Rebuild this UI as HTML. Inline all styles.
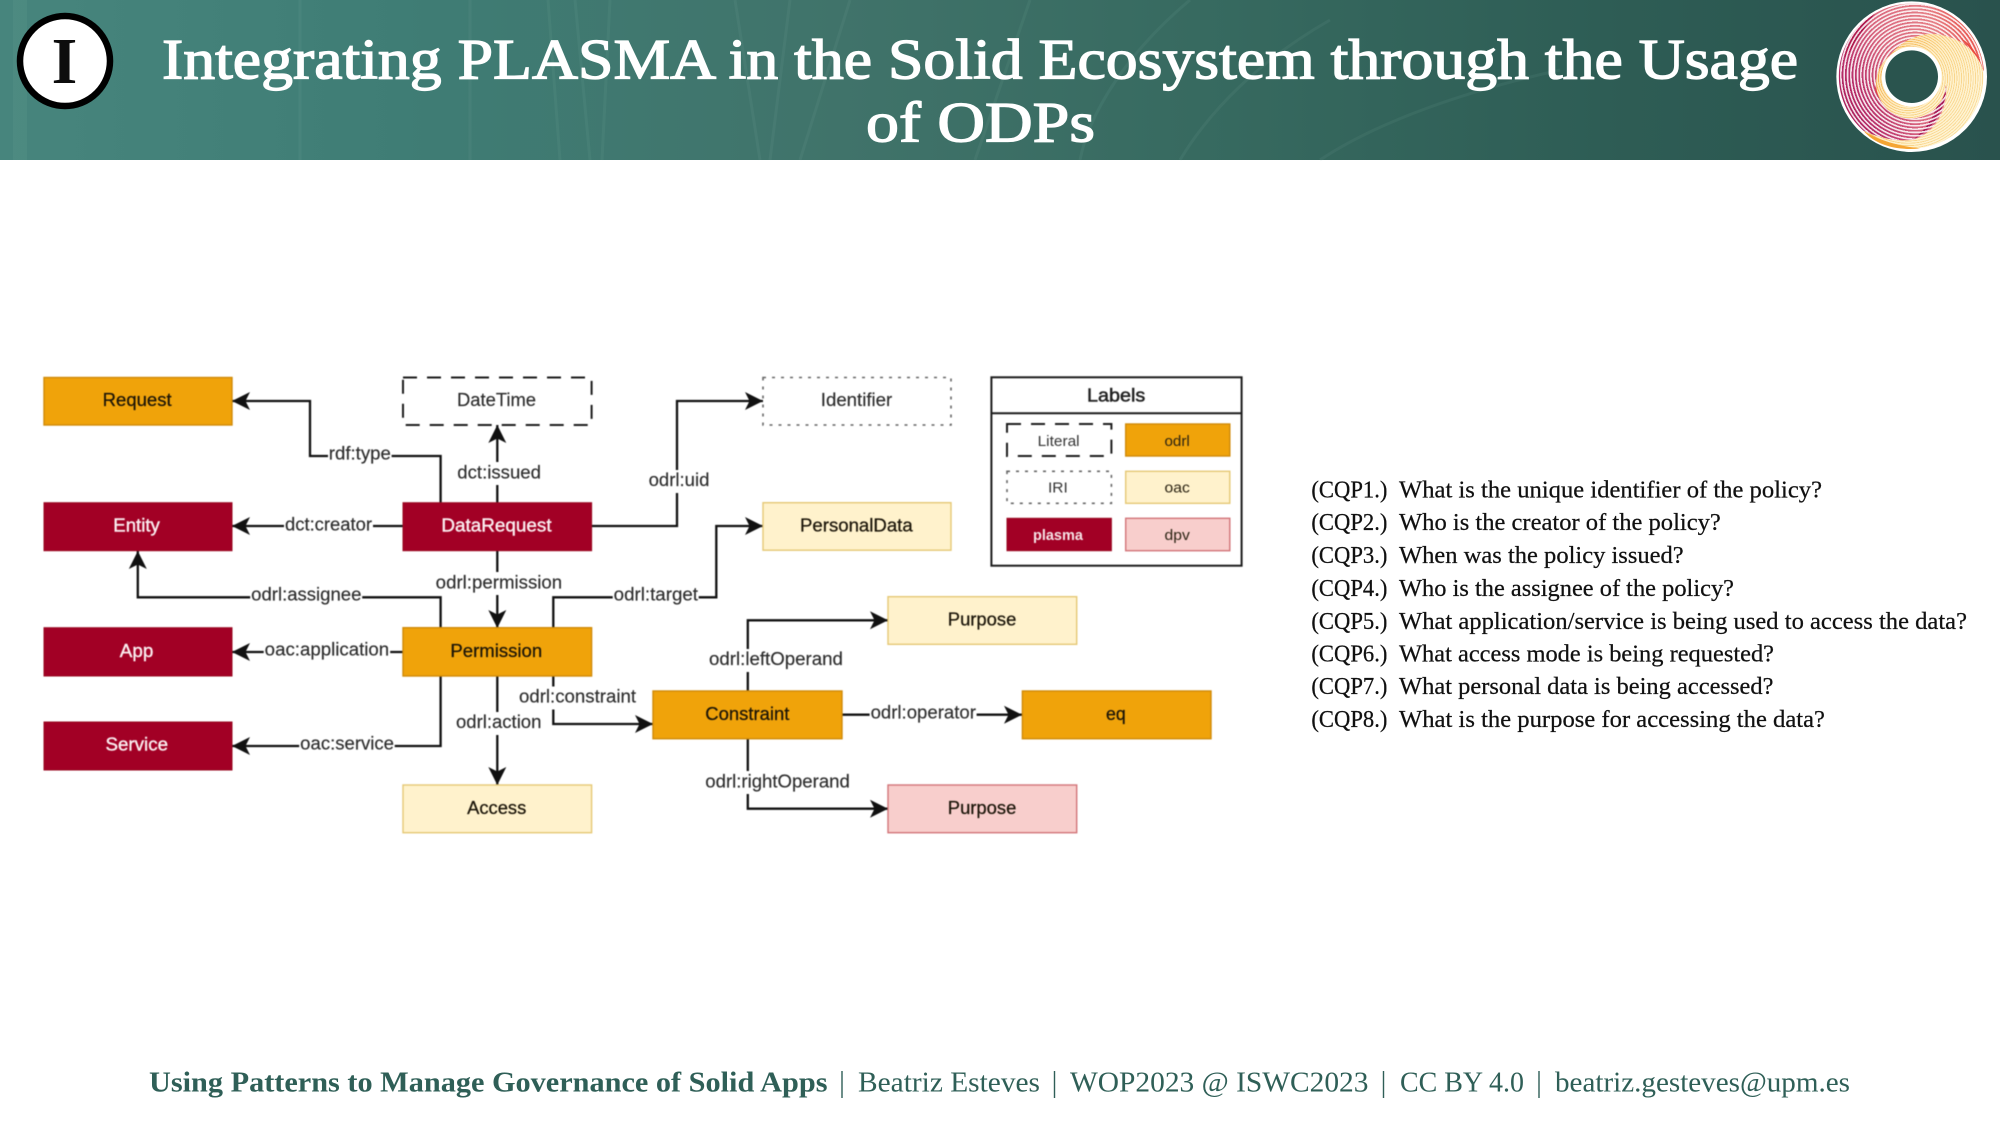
<!DOCTYPE html>
<html lang="en">
<head>
<meta charset="utf-8">
<title>Integrating PLASMA in the Solid Ecosystem through the Usage of ODPs</title>
<style>
html,body{margin:0;padding:0;background:#fff;width:2000px;height:1125px;overflow:hidden}
svg{display:block;font-family:"Liberation Sans",Arimo,Helvetica,sans-serif}
.serif{font-family:"Liberation Serif","Times New Roman",serif}
.edge{fill:none;stroke:#111;stroke-width:2.3}
.odrl{fill:#f0a30a;stroke:#d08a08;stroke-width:1.4}
.oac{fill:#fff2cc;stroke:#e5c875;stroke-width:1.4}
.plasma{fill:#a20025;stroke:#9a0a22;stroke-width:1}
.dpv{fill:#f8cecc;stroke:#d27478;stroke-width:1.4}
.lit{fill:#fff;stroke:#1c1c1c;stroke-width:2;stroke-dasharray:14 10}
.iri{fill:#fff;stroke:#666;stroke-width:1.6;stroke-dasharray:3 6}
.bt{font-size:18.4px;fill:#1a1408;stroke:#1a1408;stroke-width:.25}
.bw{font-size:18.4px;fill:#fbeef0;stroke:#fbeef0;stroke-width:.4}
.bg{font-size:18.4px;fill:#2c2c2c;stroke:#2c2c2c;stroke-width:.15}
.el{font-size:18.4px;fill:#2c2c2c;stroke:#2c2c2c;stroke-width:.15}
.lg{font-size:14.5px;fill:#333}
.cq{font-size:24.6px;fill:#111;stroke:#111;stroke-width:.25}
.ft{font-size:28px;fill:#2f5f57}
</style>
</head>
<body>
<svg xmlns="http://www.w3.org/2000/svg" width="2000" height="1125" viewBox="0 0 2000 1125">
<defs>
<linearGradient id="hdr" x1="0" y1="0" x2="1" y2="0">
<stop offset="0" stop-color="#47857d"/><stop offset=".2" stop-color="#3f7d75"/>
<stop offset=".42" stop-color="#40736a"/><stop offset=".6" stop-color="#376a60"/>
<stop offset=".8" stop-color="#2e5d55"/><stop offset="1" stop-color="#29524d"/>
</linearGradient>
<marker id="arr" markerUnits="userSpaceOnUse" markerWidth="20" markerHeight="20" refX="18" refY="10" orient="auto">
<path d="M18,10 L0,1 L4.5,10 L0,19 Z" fill="#111"/>
</marker>
<linearGradient id="pinkG" gradientUnits="userSpaceOnUse" x1="500" y1="120" x2="60" y2="330">
<stop offset="0" stop-color="#ea4a3e"/><stop offset=".25" stop-color="#e57f86"/>
<stop offset=".6" stop-color="#d8667f"/><stop offset=".85" stop-color="#b8306a"/><stop offset="1" stop-color="#a81d58"/>
</linearGradient>
<linearGradient id="orG" gradientUnits="userSpaceOnUse" x1="230" y1="150" x2="470" y2="300">
<stop offset="0" stop-color="#f5a533"/><stop offset=".4" stop-color="#fbd98c"/><stop offset="1" stop-color="#fdedbb"/>
</linearGradient>
<radialGradient id="stripes" gradientUnits="userSpaceOnUse" cx="285" cy="225" r="10" spreadMethod="repeat">
<stop offset="0" stop-color="#fff" stop-opacity=".85"/><stop offset=".42" stop-color="#fff" stop-opacity=".85"/>
<stop offset=".55" stop-color="#fff" stop-opacity="0"/><stop offset="1" stop-color="#fff" stop-opacity="0"/>
</radialGradient>
<radialGradient id="stripesO" gradientUnits="userSpaceOnUse" cx="265" cy="235" r="7" spreadMethod="repeat">
<stop offset="0" stop-color="#fff6dc" stop-opacity=".75"/><stop offset=".6" stop-color="#fff6dc" stop-opacity=".75"/>
<stop offset=".7" stop-color="#f6c873" stop-opacity=".5"/><stop offset="1" stop-color="#f6c873" stop-opacity=".5"/>
</radialGradient>
<clipPath id="pinkClip">
<path d="M492,215 A218,218 0 1 0 130,392 C170,410 220,425 270,420 C340,410 385,330 378,255 A105,105 0 1 1 208,168 C245,120 300,98 345,102 C420,110 470,150 492,215 Z"/>
</clipPath>
</defs>

<g>
<rect x="0" y="0" width="2000" height="160" fill="url(#hdr)"/>
<g fill="none" stroke="#8fc0b4" stroke-opacity=".09">
<path d="M20,0V160" stroke-width="14"/>
<path d="M300,0V160M470,0V160" stroke-width="3"/>
<path d="M548,0L560,160M575,0L590,160M610,0L602,160M735,0L760,160M790,0L770,160" stroke-width="3"/>
<path d="M850,0L800,160M1030,0L975,160M1190,0C1130,50 1090,110 1080,160M1330,20C1260,60 1210,110 1180,160M1560,70C1470,90 1380,120 1320,160" stroke-width="3"/>
</g>
</g>

<g>
<circle cx="65" cy="61" r="45" fill="#fff" stroke="#000" stroke-width="6.5"/>
<text class="serif" x="64.5" y="83" text-anchor="middle" font-size="66" font-weight="700" fill="#0d0d0d">I</text>
</g>

<g class="serif" fill="#fff" stroke="#fff" stroke-width="1.3">
<text x="162" y="78.5" font-size="57" textLength="1636" lengthAdjust="spacingAndGlyphs">Integrating PLASMA in the Solid Ecosystem through the Usage</text>
<text x="866" y="141.5" font-size="57" textLength="229" lengthAdjust="spacingAndGlyphs">of ODPs</text>
</g>

<g transform="translate(1820,0) scale(.33333)">
<circle cx="275" cy="230" r="226" fill="#fff"/>
<circle cx="275" cy="230" r="215" fill="url(#orG)"/>
<circle cx="275" cy="230" r="215" fill="url(#stripesO)"/>
<path d="M130,392 C170,440 240,452 300,445 C250,440 180,425 130,392Z" fill="#f5a533"/>
<g clip-path="url(#pinkClip)">
<rect x="40" y="0" width="470" height="460" fill="url(#pinkG)"/>
<path d="M165,40 C100,85 70,130 75,175 C95,150 115,110 165,40Z" fill="#b01d50"/>
<path d="M378,240 C385,320 340,390 280,418 C340,370 360,310 358,260Z" fill="#a81d58"/>
<rect x="40" y="0" width="470" height="460" fill="url(#stripes)"/>
<path d="M170,250 C185,290 215,315 250,322 L200,310 C170,290 160,270 170,250Z" fill="#e8433a"/>
<path d="M492,215 C475,160 450,130 420,112 C455,145 478,185 492,215Z" fill="#ea4a3e"/>
</g>
<circle cx="275" cy="230" r="90" fill="#fff"/>
<circle cx="275" cy="230" r="79" fill="#2a544e"/>
</g>

<g style="filter:blur(.45px)">
<g>
<path class="edge" marker-end="url(#arr)" d="M440.6,503V456H310V401H232"/>
<path class="edge" marker-end="url(#arr)" d="M497.3,503V425"/>
<path class="edge" marker-end="url(#arr)" d="M403,526H232"/>
<path class="edge" marker-end="url(#arr)" d="M592,526H677V401H763"/>
<path class="edge" marker-end="url(#arr)" d="M497.3,551V628"/>
<path class="edge" marker-end="url(#arr)" d="M440.6,628V597.3H137.8V551"/>
<path class="edge" marker-end="url(#arr)" d="M553.3,628V597.3H716.3V526H763"/>
<path class="edge" marker-end="url(#arr)" d="M403,652H232"/>
<path class="edge" marker-end="url(#arr)" d="M440.6,676V746H232"/>
<path class="edge" marker-end="url(#arr)" d="M497.3,676V785"/>
<path class="edge" marker-end="url(#arr)" d="M553.3,676V724H653"/>
<path class="edge" marker-end="url(#arr)" d="M747.8,691V620.3H888"/>
<path class="edge" marker-end="url(#arr)" d="M842,714.7H1022"/>
<path class="edge" marker-end="url(#arr)" d="M747.8,739V808.7H888"/>
</g>

<g>
<rect x="328" y="443" width="63.6" height="23" fill="#fff"/>
<text class="el" x="328.8" y="459.3" textLength="62" lengthAdjust="spacingAndGlyphs">rdf:type</text>
<rect x="455.3" y="462" width="88" height="23" fill="#fff"/>
<text class="el" x="457.3" y="478.3" textLength="83.7" lengthAdjust="spacingAndGlyphs">dct:issued</text>
<rect x="284" y="514" width="89" height="23" fill="#fff"/>
<text class="el" x="285" y="530.3" textLength="87" lengthAdjust="spacingAndGlyphs">dct:creator</text>
<rect x="646.6" y="470" width="65" height="23" fill="#fff"/>
<text class="el" x="648.6" y="486" textLength="60.8" lengthAdjust="spacingAndGlyphs">odrl:uid</text>
<rect x="433.7" y="572" width="130.5" height="23" fill="#fff"/>
<text class="el" x="435.7" y="588.3" textLength="126.5" lengthAdjust="spacingAndGlyphs">odrl:permission</text>
<rect x="250.2" y="584.5" width="112" height="23" fill="#fff"/>
<text class="el" x="251.2" y="600.7" textLength="110.2" lengthAdjust="spacingAndGlyphs">odrl:assignee</text>
<rect x="612.7" y="584.5" width="86" height="23" fill="#fff"/>
<text class="el" x="613.7" y="600.7" textLength="84.3" lengthAdjust="spacingAndGlyphs">odrl:target</text>
<rect x="263.7" y="639.5" width="126.5" height="23" fill="#fff"/>
<text class="el" x="264.7" y="655.7" textLength="124.5" lengthAdjust="spacingAndGlyphs">oac:application</text>
<rect x="299.2" y="733" width="95.5" height="23" fill="#fff"/>
<text class="el" x="300.2" y="749.3" textLength="93.8" lengthAdjust="spacingAndGlyphs">oac:service</text>
<rect x="517" y="686.5" width="121" height="23" fill="#fff"/>
<text class="el" x="519" y="702.7" textLength="117" lengthAdjust="spacingAndGlyphs">odrl:constraint</text>
<rect x="454" y="712" width="89.5" height="23" fill="#fff"/>
<text class="el" x="456" y="728" textLength="85.4" lengthAdjust="spacingAndGlyphs">odrl:action</text>
<rect x="707" y="649" width="138" height="23" fill="#fff"/>
<text class="el" x="709" y="665" textLength="133.9" lengthAdjust="spacingAndGlyphs">odrl:leftOperand</text>
<rect x="869.6" y="702.5" width="107" height="23" fill="#fff"/>
<text class="el" x="870.6" y="718.7" textLength="105.3" lengthAdjust="spacingAndGlyphs">odrl:operator</text>
<rect x="703.3" y="771" width="148.5" height="23" fill="#fff"/>
<text class="el" x="705.3" y="787.3" textLength="144.5" lengthAdjust="spacingAndGlyphs">odrl:rightOperand</text>
</g>

<g>
<g><rect class="odrl" x="44" y="377.5" width="188" height="47.5"/><text class="bt" x="102.7" y="406" textLength="68.9" lengthAdjust="spacingAndGlyphs">Request</text></g>
<g><rect class="lit" x="403" y="377.5" width="188.6" height="47.5"/><text class="bg" x="457" y="406" textLength="79" lengthAdjust="spacingAndGlyphs">DateTime</text></g>
<g><rect class="iri" x="763" y="377.5" width="188" height="47.5"/><text class="bg" x="820.8" y="406" textLength="71.4" lengthAdjust="spacingAndGlyphs">Identifier</text></g>
<g><rect class="plasma" x="44" y="502.7" width="188" height="48"/><text class="bw" x="113.3" y="531.7" textLength="46.5" lengthAdjust="spacingAndGlyphs">Entity</text></g>
<g><rect class="plasma" x="403" y="502.7" width="188.6" height="48"/><text class="bw" x="441.4" y="531.7" textLength="110.2" lengthAdjust="spacingAndGlyphs">DataRequest</text></g>
<g><rect class="oac" x="763" y="502.7" width="188" height="47.5"/><text class="bt" x="800" y="531.7" textLength="112.7" lengthAdjust="spacingAndGlyphs">PersonalData</text></g>
<g><rect class="plasma" x="44" y="627.7" width="188" height="48.3"/><text class="bw" x="119.8" y="657" textLength="33.5" lengthAdjust="spacingAndGlyphs">App</text></g>
<g><rect class="odrl" x="403" y="627.7" width="188.6" height="48.3"/><text class="bt" x="450.4" y="657" textLength="91.8" lengthAdjust="spacingAndGlyphs">Permission</text></g>
<g><rect class="plasma" x="44" y="722" width="188" height="48"/><text class="bw" x="105.5" y="750.7" textLength="62.5" lengthAdjust="spacingAndGlyphs">Service</text></g>
<g><rect class="oac" x="403" y="785" width="188.6" height="47.7"/><text class="bt" x="467.1" y="814" textLength="59.2" lengthAdjust="spacingAndGlyphs">Access</text></g>
<g><rect class="oac" x="888" y="596.7" width="188.7" height="47.6"/><text class="bt" x="947.8" y="625.5" textLength="68.5" lengthAdjust="spacingAndGlyphs">Purpose</text></g>
<g><rect class="odrl" x="653" y="691" width="189" height="47.7"/><text class="bt" x="705.3" y="719.8" textLength="84.1" lengthAdjust="spacingAndGlyphs">Constraint</text></g>
<g><rect class="odrl" x="1022.4" y="691" width="188.6" height="47.7"/><text class="bt" x="1106" y="719.8" textLength="19.7" lengthAdjust="spacingAndGlyphs">eq</text></g>
<g><rect class="dpv" x="888" y="785" width="188.7" height="47.7"/><text class="bt" x="947.8" y="814" textLength="68.5" lengthAdjust="spacingAndGlyphs">Purpose</text></g>
</g>

<g>
<rect x="991.4" y="377.3" width="250.2" height="188.4" fill="#fff" stroke="#1c1c1c" stroke-width="2"/>
<path d="M991.4,413.3H1241.6" stroke="#1c1c1c" stroke-width="2"/>
<text x="1087" y="401.7" font-size="18.4" fill="#222" stroke="#222" stroke-width=".5" textLength="58.3" lengthAdjust="spacingAndGlyphs">Labels</text>
<g><rect class="lit" x="1007" y="424" width="104.4" height="32"/><text class="lg" x="1037.6" y="446" textLength="42" lengthAdjust="spacingAndGlyphs">Literal</text></g>
<g><rect class="odrl" x="1125.7" y="424" width="104.1" height="32"/><text class="lg" x="1164.5" y="446" textLength="25.3" lengthAdjust="spacingAndGlyphs" style="fill:#2a2212">odrl</text></g>
<g><rect class="iri" x="1007" y="471.3" width="104.4" height="32"/><text class="lg" x="1048" y="492.7" textLength="19.8" lengthAdjust="spacingAndGlyphs">IRI</text></g>
<g><rect class="oac" x="1125.7" y="471.3" width="104.1" height="32"/><text class="lg" x="1164.5" y="492.7" textLength="25.3" lengthAdjust="spacingAndGlyphs" style="fill:#2a2212">oac</text></g>
<g><rect class="plasma" x="1007" y="518.3" width="104.4" height="32.4"/><text class="lg" x="1033" y="540" textLength="49.9" lengthAdjust="spacingAndGlyphs" font-weight="700" style="fill:#f7e4e7">plasma</text></g>
<g><rect class="dpv" x="1125.7" y="518.3" width="104.1" height="32.4"/><text class="lg" x="1164.5" y="540" textLength="25.3" lengthAdjust="spacingAndGlyphs" style="fill:#2a2212">dpv</text></g>
</g>
</g>

<g class="serif" style="filter:blur(.25px)">
<g><text class="cq" x="1311.4" y="497.3" textLength="76" lengthAdjust="spacingAndGlyphs">(CQP1.)</text><text class="cq" x="1399" y="497.3" textLength="423" lengthAdjust="spacingAndGlyphs">What is the unique identifier of the policy?</text></g>
<g><text class="cq" x="1311.4" y="530.2" textLength="76" lengthAdjust="spacingAndGlyphs">(CQP2.)</text><text class="cq" x="1399" y="530.2" textLength="321.8" lengthAdjust="spacingAndGlyphs">Who is the creator of the policy?</text></g>
<g><text class="cq" x="1311.4" y="563" textLength="76" lengthAdjust="spacingAndGlyphs">(CQP3.)</text><text class="cq" x="1399" y="563" textLength="284.7" lengthAdjust="spacingAndGlyphs">When was the policy issued?</text></g>
<g><text class="cq" x="1311.4" y="595.8" textLength="76" lengthAdjust="spacingAndGlyphs">(CQP4.)</text><text class="cq" x="1399" y="595.8" textLength="335" lengthAdjust="spacingAndGlyphs">Who is the assignee of the policy?</text></g>
<g><text class="cq" x="1311.4" y="628.8" textLength="76" lengthAdjust="spacingAndGlyphs">(CQP5.)</text><text class="cq" x="1399" y="628.8" textLength="568" lengthAdjust="spacingAndGlyphs">What application/service is being used to access the data?</text></g>
<g><text class="cq" x="1311.4" y="661.3" textLength="76" lengthAdjust="spacingAndGlyphs">(CQP6.)</text><text class="cq" x="1399" y="661.3" textLength="375" lengthAdjust="spacingAndGlyphs">What access mode is being requested?</text></g>
<g><text class="cq" x="1311.4" y="694" textLength="76" lengthAdjust="spacingAndGlyphs">(CQP7.)</text><text class="cq" x="1399" y="694" textLength="374.5" lengthAdjust="spacingAndGlyphs">What personal data is being accessed?</text></g>
<g><text class="cq" x="1311.4" y="727" textLength="76" lengthAdjust="spacingAndGlyphs">(CQP8.)</text><text class="cq" x="1399" y="727" textLength="426" lengthAdjust="spacingAndGlyphs">What is the purpose for accessing the data?</text></g>
</g>

<g class="serif">
<text class="ft" x="149" y="1091.5" font-weight="700" textLength="678.5" lengthAdjust="spacingAndGlyphs">Using Patterns to Manage Governance of Solid Apps</text>
<path d="M842,1071V1098M1054.5,1071V1098M1383.5,1071V1098M1539,1071V1098" stroke="#2f5f57" stroke-width="1.4"/>
<text class="ft" x="858" y="1091.5" textLength="182" lengthAdjust="spacingAndGlyphs">Beatriz Esteves</text>
<text class="ft" x="1070" y="1091.5" textLength="298.5" lengthAdjust="spacingAndGlyphs">WOP2023 @ ISWC2023</text>
<text class="ft" x="1400" y="1091.5" textLength="124" lengthAdjust="spacingAndGlyphs">CC BY 4.0</text>
<text class="ft" x="1555" y="1091.5" textLength="295" lengthAdjust="spacingAndGlyphs">beatriz.gesteves@upm.es</text>
</g>
</svg>
</body>
</html>
